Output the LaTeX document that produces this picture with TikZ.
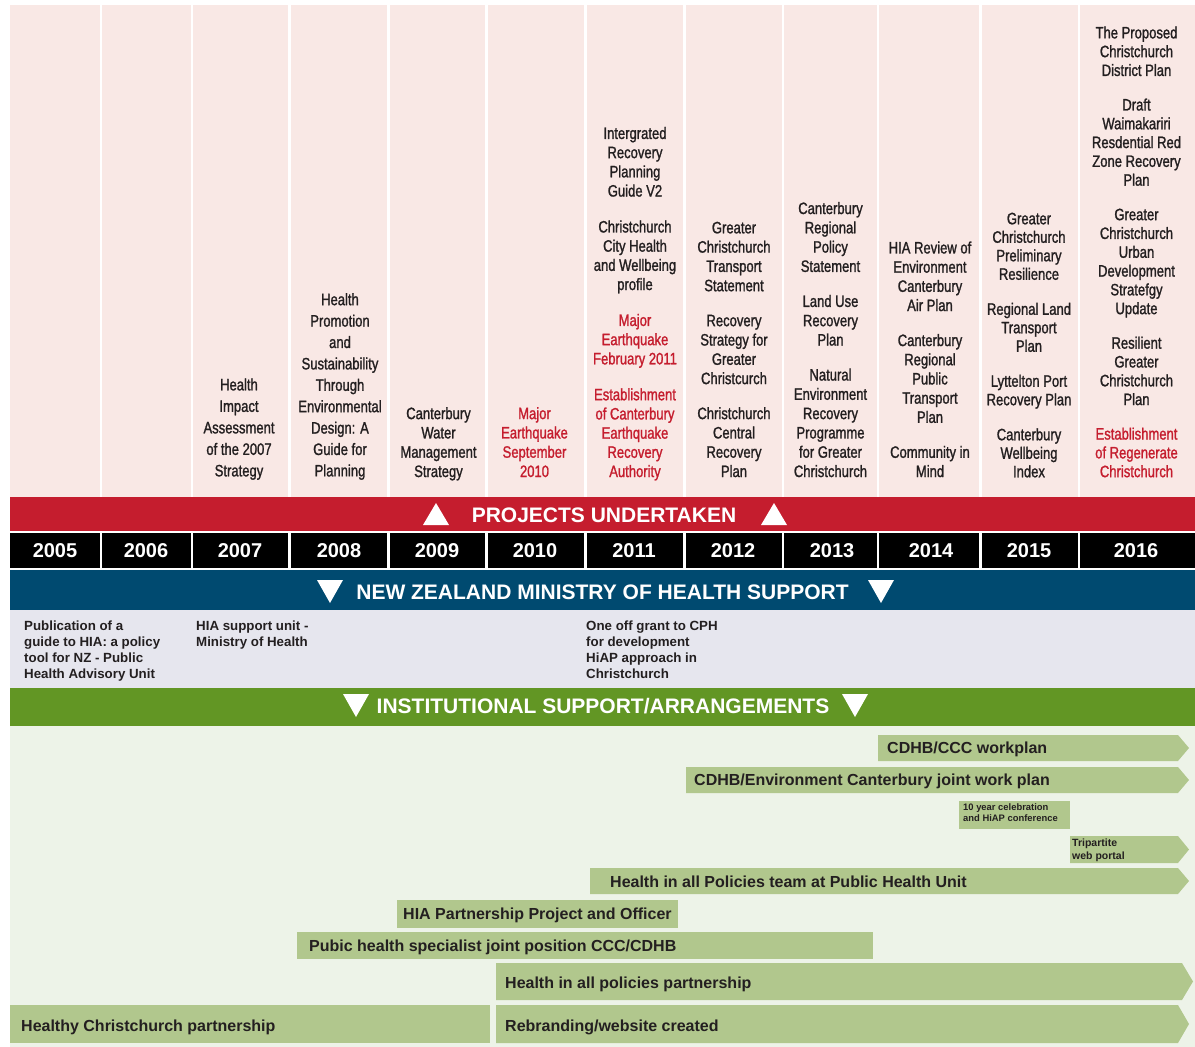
\documentclass[tikz,border=0pt]{standalone}
\usepackage{fontspec}
\setmainfont{Liberation Sans}
\newfontfamily\condf[FakeStretch=0.79,FakeBold=1.3]{Liberation Sans}
\definecolor{colbg}{HTML}{F9E8E5}
\definecolor{hred}{HTML}{C51D2E}
\definecolor{hblue}{HTML}{004A70}
\definecolor{hgray}{HTML}{E6E6EE}
\definecolor{hgreen}{HTML}{629624}
\definecolor{lgreen}{HTML}{EDF3E8}
\definecolor{barg}{HTML}{B1C78D}
\definecolor{ink}{HTML}{231F20}
\newcommand\rl[1]{\textcolor{hred}{#1}}
\newcommand\arrowbar[5]{\fill[barg] (#1,#4) -- (#2,#4) -- ({#3},{(#4+#5)/2}) -- (#2,#5) -- (#1,#5) -- cycle;}
\newcommand\plainbar[4]{\fill[barg] (#1,#3) rectangle (#2,#4);}
\begin{document}
\begin{tikzpicture}[x=1pt,y=-1pt,
  colt/.style={anchor=south, align=center, inner sep=0, text=ink, font=\condf\fontsize{16.5}{#1}\selectfont},
  colt/.default=19.2,
  year/.style={anchor=base, inner sep=0, text=white, font=\bfseries\fontsize{20}{24}\selectfont},
  bandtitle/.style={anchor=base, inner sep=0, text=white, font=\bfseries\fontsize{21}{25}\selectfont},
  mohtext/.style={anchor=north west, align=left, inner sep=0, text=ink, font=\bfseries\fontsize{13.3}{16}\selectfont},
  bartext/.style={anchor=base west, inner sep=0, text=ink, font=\bfseries\fontsize{16}{19}\selectfont},
  smalltext/.style 2 args={anchor=north west, align=left, inner sep=0, text=ink, font=\bfseries\fontsize{#1}{#2}\selectfont}
]
\useasboundingbox (0,0) rectangle (1195,1047);
\fill[white] (0,0) rectangle (1195,1047);

% columns and year cells
\foreach \a/\b in {10/100,102/191,193/288,291/387,390/485,488/584,587/683,686/782,784/877,879/979,982/1078,1080/1195} {
  \fill[colbg] (\a,5) rectangle (\b,497);
  \fill[black] (\a,533) rectangle (\b,568);
}

% bands
\fill[hred] (10,497) rectangle (1195,531);
\fill[hblue] (10,570) rectangle (1195,610);
\fill[hgray] (10,610) rectangle (1195,688);
\fill[hgreen] (10,688) rectangle (1195,726);
\fill[lgreen] (10,726) rectangle (1195,1047);

% triangles
\fill[white] (423,525) -- (449,525) -- (436,503) -- cycle;
\fill[white] (761,525) -- (787,525) -- (774,503) -- cycle;
\fill[white] (317,580) -- (343,580) -- (330,603) -- cycle;
\fill[white] (868,580) -- (894,580) -- (881,603) -- cycle;
\fill[white] (343,694) -- (369,694) -- (356,717) -- cycle;
\fill[white] (842,694) -- (868,694) -- (855,717) -- cycle;

% band titles
\node[bandtitle] (projects) at (604,522.5) {PROJECTS UNDERTAKEN};
\node[bandtitle] (moh) at (602.5,599.5) {NEW ZEALAND MINISTRY OF HEALTH SUPPORT};
\node[bandtitle] (inst) at (603,713.5) {INSTITUTIONAL SUPPORT/ARRANGEMENTS};

% years
\foreach \x/\yr in {55/2005,146/2006,240/2007,339/2008,437/2009,535/2010,634/2011,733/2012,832/2013,931/2014,1029/2015,1136/2016}
  \node[year] (y\yr) at (\x,557.2) {\yr};

% column texts
\node[colt=21.5] (c2007) at (239,483) {Health\\Impact\\Assessment\\of the 2007\\Strategy\strut};
\node[colt=21.4] (c2008) at (340,483) {Health\\Promotion\\and\\Sustainability\\Through\\Environmental\\Design: A\\Guide for\\Planning\strut};
\node[colt=19.3] (c2009) at (438.5,483) {Canterbury\\Water\\Management\\Strategy\strut};
\node[colt=19.3, text=hred] (c2010) at (534.5,483) {Major\\Earthquake\\September\\2010\strut};
\node[colt=19.2] (c2011) at (635,483) {Intergrated\\Recovery\\Planning\\Guide V2\\[16.7pt]Christchurch\\City Health\\and Wellbeing\\profile\\[16.7pt]\rl{Major}\\\rl{Earthquake}\\\rl{February 2011}\\[16.7pt]\rl{Establishment}\\\rl{of Canterbury}\\\rl{Earthquake}\\\rl{Recovery}\\\rl{Authority}\strut};
\node[colt=19.3] (c2012) at (734,483) {Greater\\Christchurch\\Transport\\Statement\\[15.7pt]Recovery\\Strategy for\\Greater\\Christcurch\\[15.7pt]Christchurch\\Central\\Recovery\\Plan\strut};
\node[colt=19.3] (c2013) at (830.5,483) {Canterbury\\Regional\\Policy\\Statement\\[15.7pt]Land Use\\Recovery\\Plan\\[15.7pt]Natural\\Environment\\Recovery\\Programme\\for Greater\\Christchurch\strut};
\node[colt=19.2] (c2014) at (930,483) {HIA Review of\\Environment\\Canterbury\\Air Plan\\[15.8pt]Canterbury\\Regional\\Public\\Transport\\Plan\\[15.8pt]Community in\\Mind\strut};
\node[colt=18.5] (c2015) at (1029,483) {Greater\\Christchurch\\Preliminary\\Resilience\\[16.5pt]Regional Land\\Transport\\Plan\\[16.5pt]Lyttelton Port\\Recovery Plan\\[16.5pt]Canterbury\\Wellbeing\\Index\strut};
\node[colt=18.8] (c2016) at (1136.5,483) {The Proposed\\Christchurch\\District Plan\\[15.7pt]Draft\\Waimakariri\\Resdential Red\\Zone Recovery\\Plan\\[15.7pt]Greater\\Christchurch\\Urban\\Development\\Stratefgy\\Update\\[15.7pt]Resilient\\Greater\\Christchurch\\Plan\\[15.7pt]\rl{Establishment}\\\rl{of Regenerate}\\\rl{Christchurch}\strut};

% ministry support texts
\node[mohtext] (guide) at (24,618.6) {\strut Publication of a\\guide to HIA: a policy\\tool for NZ - Public\\Health Advisory Unit};
\node[mohtext] (unit) at (196,618.6) {\strut HIA support unit -\\Ministry of Health};
\node[mohtext] (grant) at (586,618.6) {\strut One off grant to CPH\\for development\\HiAP approach in\\Christchurch};

% institutional bars
\arrowbar{878}{1178}{1189}{735}{761}
\node[bartext] (b1) at (887,753.7) {CDHB/CCC workplan};
\arrowbar{686}{1178}{1189}{767}{793}
\node[bartext] (b2) at (694,785.7) {CDHB/Environment Canterbury joint work plan};
\plainbar{959}{1070}{801}{829}
\node[smalltext={9.4}{11}] (b3) at (963,802.7) {\strut 10 year celebration\\and HiAP conference};
\arrowbar{1070}{1178}{1189}{836}{863}
\node[smalltext={10.5}{13}] (b4) at (1072,836.7) {\strut Tripartite\\web portal};
\arrowbar{590}{1178}{1189}{868}{894}
\node[bartext] (b5) at (610,887.5) {Health in all Policies team at Public Health Unit};
\plainbar{397}{678}{900}{928}
\node[bartext] (b6) at (403,919.7) {HIA Partnership Project and Officer};
\plainbar{297}{873}{932}{959}
\node[bartext] (b7) at (309,951.2) {Pubic health specialist joint position CCC/CDHB};
\arrowbar{496}{1182}{1193}{963}{1000}
\node[bartext] (b8) at (505,988) {Health in all policies partnership};
\plainbar{10}{490}{1005}{1043}
\node[bartext] (b9) at (21,1031) {Healthy Christchurch partnership};
\arrowbar{496}{1178}{1189}{1005}{1043}
\node[bartext] (b10) at (505,1031) {Rebranding/website created};
\end{tikzpicture}
\end{document}
